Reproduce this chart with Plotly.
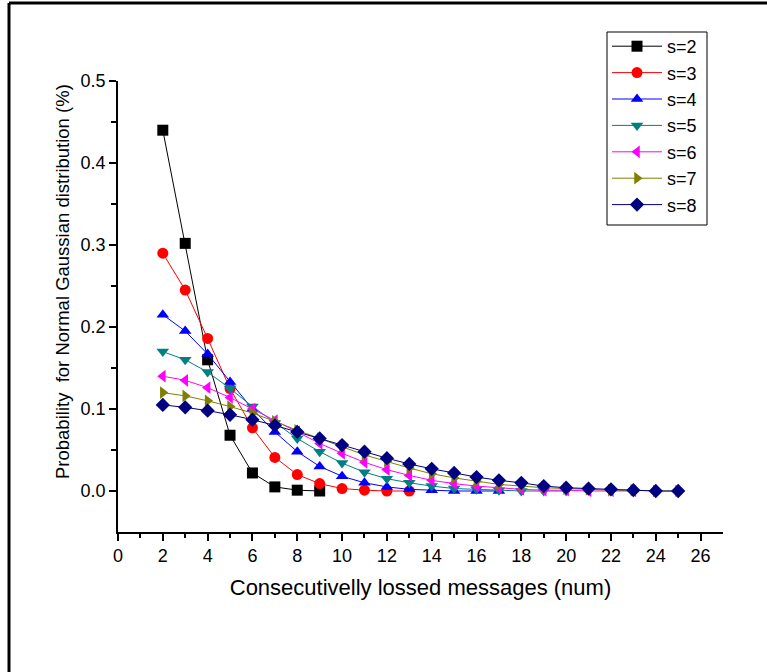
import plotly.graph_objects as go

x_s2 = list(range(2, 10))
y_s2 = [0.44, 0.302, 0.16, 0.068, 0.022, 0.005, 0.001, 0.0]
x_s3 = list(range(2, 14))
y_s3 = [0.29, 0.245, 0.186, 0.125, 0.077, 0.041, 0.02, 0.009, 0.003, 0.001, 0.0, 0.0]
x_s4 = list(range(2, 18))
y_s4 = [0.215, 0.195, 0.167, 0.133, 0.1, 0.072, 0.048, 0.03, 0.018, 0.01, 0.005, 0.002, 0.001, 0.0, 0.0, 0.0]
x_s5 = list(range(2, 21))
y_s5 = [0.17, 0.16, 0.145, 0.125, 0.103, 0.083, 0.064, 0.048, 0.034, 0.023, 0.015, 0.01, 0.006, 0.003, 0.002, 0.001, 0.0, 0.0, 0.0]
x_s6 = list(range(2, 24))
y_s6 = [0.14, 0.135, 0.126, 0.114, 0.1, 0.086, 0.072, 0.058, 0.046, 0.035, 0.026, 0.019, 0.013, 0.009, 0.006, 0.004, 0.002, 0.001, 0.001, 0.0, 0.0, 0.0]
x_s7 = list(range(2, 26))
y_s7 = [0.12, 0.116, 0.11, 0.103, 0.095, 0.085, 0.074, 0.064, 0.054, 0.044, 0.036, 0.028, 0.021, 0.016, 0.012, 0.008, 0.006, 0.004, 0.003, 0.002, 0.001, 0.001, 0.0, 0.0]
x_s8 = list(range(2, 26))
y_s8 = [0.105, 0.102, 0.098, 0.093, 0.087, 0.08, 0.072, 0.064, 0.056, 0.048, 0.04, 0.033, 0.027, 0.022, 0.017, 0.013, 0.01, 0.006, 0.004, 0.003, 0.002, 0.001, 0.0, 0.0]

names = ["s=2", "s=3", "s=4", "s=5", "s=6", "s=7", "s=8"]
colors = ["#000000", "#FF0000", "#0000FF", "#008080", "#FF00FF", "#808000", "#000080"]
symbols = ["square", "circle", "triangle-up", "triangle-down", "triangle-left", "triangle-right", "diamond"]
xs = [x_s2, x_s3, x_s4, x_s5, x_s6, x_s7, x_s8]
ys = [y_s2, y_s3, y_s4, y_s5, y_s6, y_s7, y_s8]

x_title = "Consecutivelly lossed messages (num)"
y_title = "Probability\u00a0 for Normal Gaussian distribution (%)"

FONT = "Liberation Sans, Arial, sans-serif"

fig = go.Figure()
for i in range(len(names)):
    fig.add_trace(go.Scatter(
        x=xs[i], y=ys[i], name=names[i], mode="lines+markers",
        line=dict(color=colors[i], width=1),
        marker=dict(color=colors[i], symbol=symbols[i], size=11),
        legendgroup=names[i],
    ))

L, R, T, B = 118, 44, 81, 140
W, H = 767, 672
pw, ph = W - L - R, H - T - B

def px(xp):
    return (xp - L) / pw

def py(yp):
    return (H - B - yp) / ph

fig.update_layout(
    width=W, height=H,
    margin=dict(l=L, r=R, t=T, b=B, autoexpand=False),
    paper_bgcolor="white", plot_bgcolor="white",
    font=dict(family=FONT, color="black", size=17),
    showlegend=True,
    legend=dict(
        x=px(607), y=py(28), xanchor="left", yanchor="top",
        borderwidth=0, bgcolor="rgba(0,0,0,0)",
        font=dict(family=FONT, size=18, color="black"),
        itemwidth=50, traceorder="normal",
    ),
    xaxis=dict(
        range=[0, 27], showgrid=False, zeroline=False,
        showline=True, linecolor="black", linewidth=1.5,
        tickmode="array", tickvals=list(range(0, 27, 2)),
        ticks="outside", ticklen=7, tickwidth=1.5, tickcolor="black",
        minor=dict(tickvals=list(range(1, 27, 2)), ticks="outside", ticklen=4, tickwidth=1.5, tickcolor="black"),
        tickfont=dict(family=FONT, size=18),
        title=dict(text=x_title, font=dict(family=FONT, size=22), standoff=14),
        automargin=False,
    ),
    yaxis=dict(
        range=[-0.05, 0.5], showgrid=False, zeroline=False,
        showline=True, linecolor="black", linewidth=1.5,
        tickmode="array", tickvals=[0.0, 0.1, 0.2, 0.3, 0.4, 0.5],
        ticktext=["0.0", "0.1", "0.2", "0.3", "0.4", "0.5"],
        ticks="outside", ticklen=7, tickwidth=1.5, tickcolor="black",
        minor=dict(tickvals=[0.05, 0.15, 0.25, 0.35, 0.45], ticks="outside", ticklen=5, tickwidth=1.5, tickcolor="black"),
        tickfont=dict(family=FONT, size=18),
        automargin=False,
    ),
    annotations=[
        dict(text=y_title, xref="paper", yref="paper", x=px(62), y=py(282),
             xanchor="center", yanchor="middle", textangle=-90, showarrow=False,
             font=dict(family=FONT, size=18.5, color="black")),
    ],
    shapes=[
        dict(type="rect", xref="paper", yref="paper", x0=px(607), x1=px(707), y0=py(32), y1=py(225),
             line=dict(color="black", width=1), fillcolor="rgba(0,0,0,0)", layer="above"),
        dict(type="line", xref="paper", yref="paper", x0=px(9), x1=px(767), y0=py(3), y1=py(3),
             line=dict(color="black", width=3)),
        dict(type="line", xref="paper", yref="paper", x0=px(9), x1=px(9), y0=py(3), y1=py(672),
             line=dict(color="black", width=3)),
    ],
)

fig.write_html("out.html", config={"displayModeBar": False},
               post_script="document.body.style.margin='0px';")
